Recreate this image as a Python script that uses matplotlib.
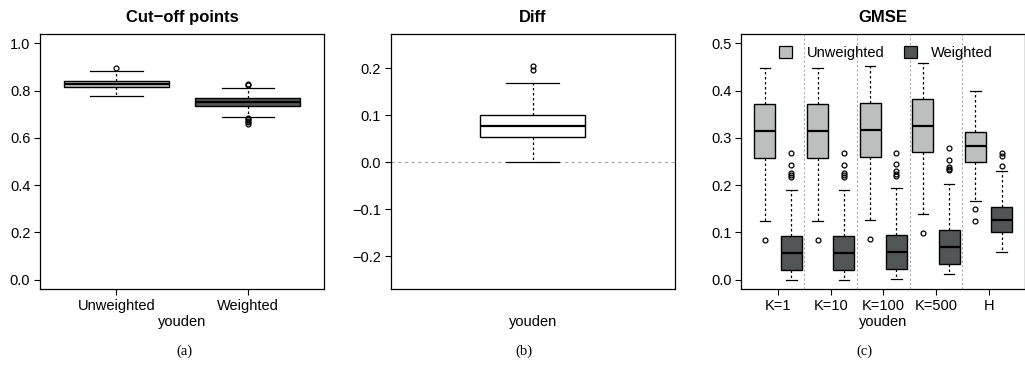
"""
Boxplots: cut-off points, difference and GMSE for the youden criterion
"""
import numpy as np
import matplotlib.pyplot as plt
from matplotlib.patches import Patch

plt.rcParams['font.family'] = ['Liberation Sans', 'DejaVu Sans']
plt.rcParams['font.size'] = 10

LIGHT = '#bdbfbf'
DARK = '#525556'

# (a) cut-off points
cut_labels = ['Unweighted', 'Weighted']
cut_whislo = [0.778, 0.689]
cut_q1 = [0.815, 0.737]
cut_med = [0.827, 0.754]
cut_q3 = [0.843, 0.768]
cut_whishi = [0.884, 0.812]
cut_fliers = [[0.895], [0.825, 0.830, 0.684, 0.678, 0.672, 0.666, 0.660]]

# (b) difference
diff_whislo = 0.0
diff_q1 = 0.053
diff_med = 0.077
diff_q3 = 0.100
diff_whishi = 0.168
diff_fliers = [0.196, 0.205]

# (c) GMSE
gmse_groups = ['K=1', 'K=10', 'K=100', 'K=500', 'H']
unw_whislo = [0.125, 0.125, 0.127, 0.138, 0.166]
unw_q1 = [0.258, 0.258, 0.260, 0.270, 0.250]
unw_med = [0.314, 0.314, 0.316, 0.325, 0.283]
unw_q3 = [0.371, 0.371, 0.373, 0.382, 0.313]
unw_whishi = [0.449, 0.449, 0.452, 0.459, 0.400]
unw_fliers = [[0.084], [0.084], [0.086], [0.098], [0.150, 0.125]]
w_whislo = [0.0, 0.0, 0.002, 0.011, 0.059]
w_q1 = [0.020, 0.020, 0.023, 0.033, 0.101]
w_med = [0.057, 0.057, 0.059, 0.070, 0.127]
w_q3 = [0.092, 0.092, 0.094, 0.106, 0.153]
w_whishi = [0.190, 0.190, 0.193, 0.203, 0.229]
w_fliers = [[0.267, 0.243, 0.226, 0.222, 0.218],
            [0.267, 0.243, 0.226, 0.222, 0.218],
            [0.268, 0.244, 0.229, 0.224, 0.220],
            [0.278, 0.254, 0.238, 0.234, 0.231],
            [0.268, 0.262, 0.240]]


def make_stats(lo, q1, med, q3, hi, fl):
    return [dict(whislo=a, q1=b, med=c, q3=d, whishi=e, fliers=f)
            for a, b, c, d, e, f in zip(lo, q1, med, q3, hi, fl)]


def rbox(ax, stats, pos, width, colors):
    bp = ax.bxp(stats, positions=pos, widths=width, capwidths=width / 2,
                patch_artist=True, manage_ticks=False,
                boxprops=dict(edgecolor='black', linewidth=1),
                medianprops=dict(color='black', linewidth=1.6),
                whiskerprops=dict(color='black', linewidth=0.9, linestyle=(0, (2, 2))),
                capprops=dict(color='black', linewidth=0.9),
                flierprops=dict(marker='o', markersize=3.5, markerfacecolor='none',
                                markeredgecolor='black', markeredgewidth=0.9))
    for patch, c in zip(bp['boxes'], colors):
        patch.set_facecolor(c)
    return bp


def style(ax):
    ax.tick_params(direction='out', length=4, width=0.8, pad=3, labelsize=10.5)
    for s in ax.spines.values():
        s.set_linewidth(0.9)


fig = plt.figure(figsize=(10.25, 3.73), dpi=100)
bottom, height, width = 0.2252, 0.6836, 0.2772
ax1 = fig.add_axes([0.039, bottom, width, height])
ax2 = fig.add_axes([0.3812, bottom, width, height])
ax3 = fig.add_axes([0.7232, bottom, width, height])

# (a)
rbox(ax1, make_stats(cut_whislo, cut_q1, cut_med, cut_q3, cut_whishi, cut_fliers),
     [1, 2], 0.8, [LIGHT, DARK])
ax1.set_xlim(0.42, 2.58)
ax1.set_ylim(-0.04, 1.04)
ax1.set_yticks(np.arange(0, 1.01, 0.2))
ax1.set_yticklabels(['%.1f' % v for v in np.arange(0, 1.01, 0.2)])
ax1.set_xticks([1, 2])
ax1.set_xticklabels(cut_labels)
ax1.set_title('Cut\u2212off points', fontweight='bold', pad=9)
style(ax1)

# (b)
ax2.axhline(0, color='#aaaaaa', linewidth=0.8, linestyle=(0, (3, 3)), zorder=0)
rbox(ax2, make_stats([diff_whislo], [diff_q1], [diff_med], [diff_q3], [diff_whishi], [diff_fliers]),
     [1], 0.4, ['white'])
ax2.set_xlim(0.46, 1.54)
ax2.set_ylim(-0.27, 0.273)
ax2.set_yticks([-0.2, -0.1, 0.0, 0.1, 0.2])
ax2.set_yticklabels(['\u22120.2', '\u22120.1', '0.0', '0.1', '0.2'])
ax2.set_xticks([])
ax2.set_title('Diff', fontweight='bold', pad=9)
style(ax2)

# (c)
n = len(gmse_groups)
pos_u = np.arange(n) * 2 + 1
pos_w = pos_u + 1
for x in pos_w[:-1] + 0.5:
    ax3.axvline(x, color='#aaaaaa', linewidth=0.8, linestyle=(0, (2, 2)), zorder=0)
rbox(ax3, make_stats(unw_whislo, unw_q1, unw_med, unw_q3, unw_whishi, unw_fliers),
     pos_u, 0.8, [LIGHT] * n)
rbox(ax3, make_stats(w_whislo, w_q1, w_med, w_q3, w_whishi, w_fliers),
     pos_w, 0.8, [DARK] * n)
ax3.set_xlim(0.1, 10.9)
ax3.set_ylim(-0.02, 0.52)
ax3.set_yticks(np.arange(0, 0.51, 0.1))
ax3.set_yticklabels(['%.1f' % v for v in np.arange(0, 0.51, 0.1)])
ax3.set_xticks(pos_u + 0.5)
ax3.set_xticklabels(gmse_groups)
ax3.set_title('GMSE', fontweight='bold', pad=9)
style(ax3)
handles = [Patch(facecolor=LIGHT, edgecolor='black', linewidth=0.9),
           Patch(facecolor=DARK, edgecolor='black', linewidth=0.9)]
ax3.legend(handles, ['Unweighted', 'Weighted'], loc='upper center',
           bbox_to_anchor=(0.51, 1.0), ncol=2, frameon=False,
           handlelength=0.9, handleheight=0.9, handletextpad=1.0,
           columnspacing=1.3, borderaxespad=0.4, fontsize=10.5)

for ax in (ax1, ax2, ax3):
    ax.set_xlabel('youden', fontsize=10.5)
    ax.xaxis.set_label_coords(0.5, -0.103)

cap_font = ['Liberation Serif', 'DejaVu Serif']
fig.text(184 / 1025, 0.059, '(a)', ha='center', va='center', family=cap_font, fontsize=10.5)
fig.text(524 / 1025, 0.059, '(b)', ha='center', va='center', family=cap_font, fontsize=10.5)
fig.text(864 / 1025, 0.059, '(c)', ha='center', va='center', family=cap_font, fontsize=10.5)

fig.savefig('out.png', dpi=100)
